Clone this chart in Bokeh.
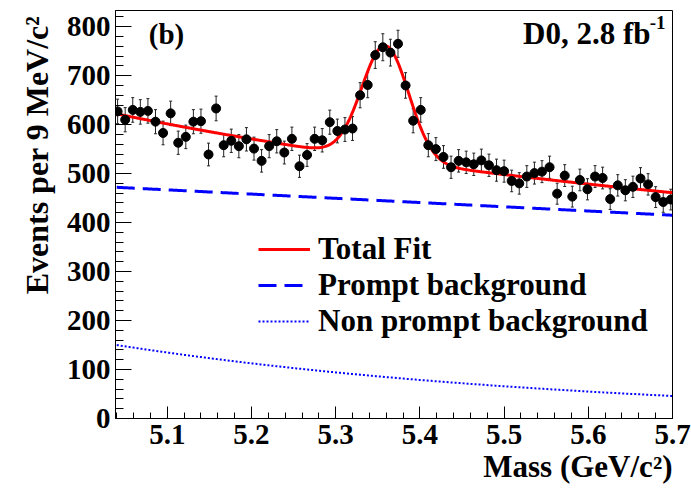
import math
import numpy as np
from bokeh.plotting import figure
from bokeh.models import (Range1d, Whisker, TeeHead, ColumnDataSource, Legend,
                          LegendItem, Label, SingleIntervalTicker, Title)
from bokeh.embed import file_html
from bokeh.resources import INLINE

# ---- data ----
bin_start = 5.041      # centre of first bin (GeV/c^2)
bin_width = 0.009      # 9 MeV/c^2
counts = [627, 610, 630, 626, 628, 606, 583, 623, 563, 575,
          606, 607, 539, 633, 558, 567, 556, 570, 551, 526,
          556, 566, 543, 571, 515, 538, 571, 568, 605, 587,
          590, 592, 660, 681, 742, 758, 747, 765, 680, 608,
          630, 558, 550, 534, 513, 526, 523, 519, 527, 517,
          507, 505, 485, 480, 494, 501, 504, 513, 459, 496,
          453, 487, 468, 494, 491, 448, 476, 466, 473, 490,
          478, 452, 442, 447]

# fit components
prompt_lo, prompt_hi = 472.0, 415.0       # prompt background at 5.04 and 5.70
nonprompt_lo, nonprompt_hi = 150.0, 46.0  # non-prompt background at 5.04 and 5.70
peak_mean, peak_sigma, peak_amp = 5.359, 0.0278, 232.0
fit_lo, fit_hi = 5.04, 5.70

x_title = "Mass (GeV/c²)"
y_title = "Events per 9 MeV/c²"

# ---- derived ----
mass = [bin_start + bin_width * i for i in range(len(counts))]
err = [math.sqrt(c) for c in counts]
src = ColumnDataSource(dict(x=mass, y=counts,
                            lo=[c - e for c, e in zip(counts, err)],
                            hi=[c + e for c, e in zip(counts, err)]))

xf = np.linspace(fit_lo, fit_hi, 600)
t = (xf - fit_lo) / (fit_hi - fit_lo)
prompt = prompt_lo + (prompt_hi - prompt_lo) * t
nonprompt = nonprompt_lo * (nonprompt_hi / nonprompt_lo) ** t
total = prompt + nonprompt + peak_amp * np.exp(-0.5 * ((xf - peak_mean) / peak_sigma) ** 2)

FONT = "Liberation Serif"

p = figure(width=691, height=488, output_backend="svg", toolbar_location=None,
           x_range=Range1d(5.0385, 5.7), y_range=Range1d(0, 833),
           min_border_left=115, min_border_right=19, min_border_top=10,
           min_border_bottom=70)
p.background_fill_color = "white"
p.border_fill_color = "white"
p.outline_line_color = "black"
p.outline_line_width = 1
p.xgrid.visible = False
p.ygrid.visible = False

for ax in (p.xaxis[0], p.yaxis[0]):
    ax.major_label_text_font = FONT
    ax.major_label_text_font_style = "bold"
    ax.major_label_text_font_size = "29px"
    ax.major_label_text_color = "black"
    ax.axis_line_color = "black"
    ax.major_tick_line_color = "black"
    ax.minor_tick_line_color = "black"
    ax.major_tick_out = 0
    ax.minor_tick_out = 0

p.xaxis.ticker = SingleIntervalTicker(interval=0.1, num_minor_ticks=5)
p.yaxis.ticker = SingleIntervalTicker(interval=100, num_minor_ticks=5)
p.xaxis.major_tick_in = 12
p.xaxis.minor_tick_in = 6
p.yaxis.major_tick_in = 16
p.yaxis.minor_tick_in = 8
p.xaxis.major_label_standoff = 6
p.yaxis.major_label_standoff = 5

# axis titles as right/top-aligned titles
p.add_layout(Title(text=x_title, align="right", standoff=0, offset=0,
                   text_font=FONT, text_font_style="bold",
                   text_font_size="31px", text_color="black"), "below")
p.add_layout(Title(text=y_title, align="right", standoff=18, offset=5,
                   text_font=FONT, text_font_style="bold",
                   text_font_size="32px", text_color="black"), "left")

# curves
r_np = p.line(xf, nonprompt, line_color="#0000ff", line_width=2, line_dash="2 2")
r_pr = p.line(xf, prompt, line_color="#0000ff", line_width=3, line_dash="18 8")
r_tot = p.line(xf, total, line_color="#ff0000", line_width=3)

# data with error bars
p.add_layout(Whisker(source=src, base="x", lower="lo", upper="hi",
                     line_color="#222222", line_width=1,
                     upper_head=TeeHead(size=3, line_color="#222222", line_width=1),
                     lower_head=TeeHead(size=3, line_color="#222222", line_width=1)))
p.scatter("x", "y", source=src, size=9, color="black")

legend = Legend(items=[LegendItem(label="Total Fit", renderers=[r_tot]),
                       LegendItem(label="Prompt background", renderers=[r_pr]),
                       LegendItem(label="Non prompt background", renderers=[r_np])],
                location=(143, 79), padding=0, margin=0, spacing=0,
                glyph_width=52, glyph_height=34, label_height=34,
                label_standoff=8, border_line_color=None,
                background_fill_alpha=0,
                label_text_font=FONT, label_text_font_style="bold",
                label_text_font_size="31px", label_text_color="black")
p.add_layout(legend)

def lab(**kw):
    base = dict(text_font=FONT, text_font_style="bold", text_color="black")
    base.update(kw)
    p.add_layout(Label(**base))

lab(x=5.078, y=786, text="(b)", text_font_size="29px", text_baseline="middle")
lab(x=5.7, y=786, x_offset=-22, text="D0, 2.8 fb", text_font_size="31px",
    text_align="right", text_baseline="middle")
lab(x=5.7, y=808, x_offset=-7, text="-1", text_font_size="19px",
    text_align="right", text_baseline="middle")

open("out.html", "w").write(file_html(p, INLINE))
